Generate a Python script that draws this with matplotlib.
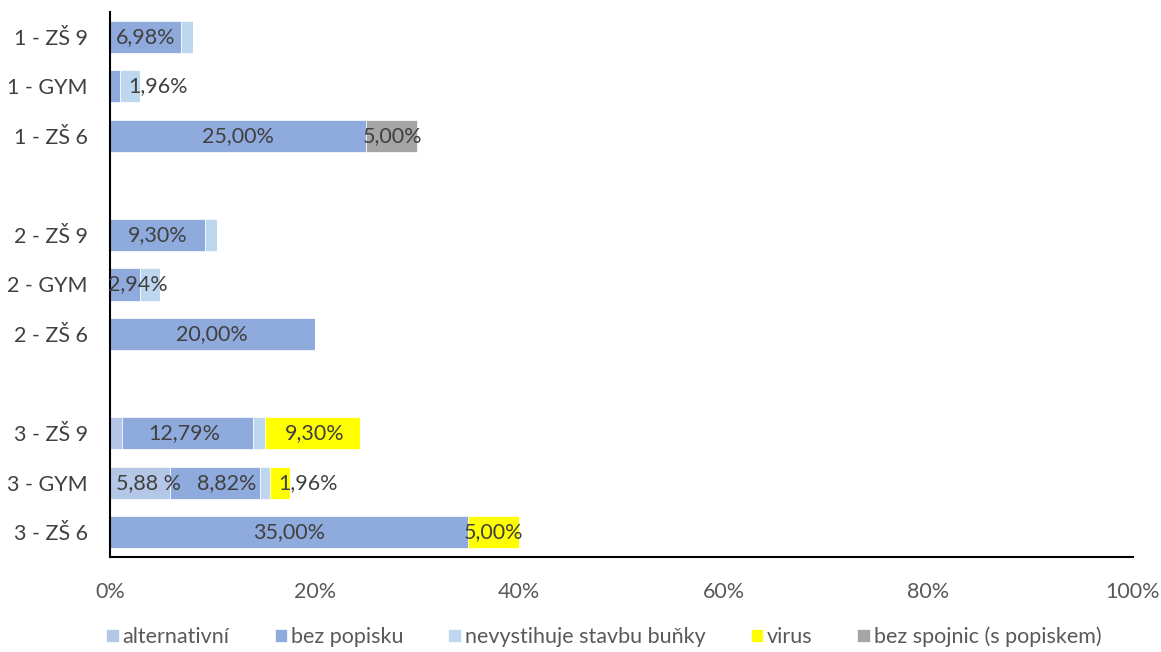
import matplotlib
matplotlib.use("Agg")
import matplotlib.pyplot as plt
import numpy as np

categories = ["1 - ZŠ 9", "1 - GYM", "1 - ZŠ 6", "",
              "2 - ZŠ 9", "2 - GYM", "2 - ZŠ 6", "",
              "3 - ZŠ 9", "3 - GYM", "3 - ZŠ 6"]
series = ["alternativní", "bez popisku", "nevystihuje stavbu buňky", "virus", "bez spojnic (s popiskem)"]
alternativni = [0, 0, 0, 0, 0, 0, 0, 0, 1.16, 5.88, 0]
bez_popisku = [6.98, 0.98, 25.00, 0, 9.30, 2.94, 20.00, 0, 12.79, 8.82, 35.00]
nevystihuje = [1.16, 1.96, 0, 0, 1.16, 1.96, 0, 0, 1.16, 0.98, 0]
virus = [0, 0, 0, 0, 0, 0, 0, 0, 9.30, 1.96, 5.00]
bez_spojnic = [0, 0, 5.00, 0, 0, 0, 0, 0, 0, 0, 0]
colors = ["#B4C7E7", "#8FAADC", "#BDD7EE", "#FFFF00", "#A5A5A5"]

# labels: (row, series index, text, x offset in points)
labels = [(0, 1, "6,98%", 0), (1, 2, "1,96%", 20), (2, 1, "25,00%", 0), (2, 4, "5,00%", 1),
          (4, 1, "9,30%", 0), (5, 1, "2,94%", 9), (6, 1, "20,00%", 0),
          (8, 1, "12,79%", -2), (8, 3, "9,30%", 2),
          (9, 0, "5,88 %", 6), (9, 1, "8,82%", 8), (9, 3, "1,96%", 20),
          (10, 1, "35,00%", 0), (10, 3, "5,00%", 0)]

data = np.array([alternativni, bez_popisku, nevystihuje, virus, bez_spojnic]) / 100.0
FAM = ['Lato', 'DejaVu Sans']
FS = 15.5

fig = plt.figure(figsize=(11.61, 6.52), dpi=100)
ax = fig.add_axes([110 / 1161, 1 - 557 / 652, (1133 - 110) / 1161, (557 - 12) / 652])
plt.rcParams['font.family'] = FAM

y = np.arange(len(categories))
left = np.zeros(len(categories))
lefts = []
for i, name in enumerate(series):
    ax.barh(y, data[i], left=left, height=0.65, color=colors[i], label=name,
            edgecolor="white", linewidth=0.5)
    lefts.append(left.copy())
    left = left + data[i]

for row, si, txt, dx in labels:
    xc = lefts[si][row] + data[si][row] / 2
    ax.annotate(txt, (xc, row), xytext=(dx, 0), textcoords="offset points",
                ha="center", va="center", fontsize=FS, color="#404040", family=FAM)

ax.set_xlim(0, 1)
ax.set_ylim(len(categories) - 0.5, -0.5)
ax.set_yticks(y)
ax.set_yticklabels(categories, fontsize=FS, color="#404040", family=FAM)
ax.set_xticks(np.linspace(0, 1, 6))
ax.set_xticklabels([f"{int(v)}%" for v in np.linspace(0, 100, 6)], fontsize=FS, color="#595959",
                   family=FAM)
ax.tick_params(axis="y", length=0, pad=16)
ax.tick_params(axis="x", length=0, pad=18)
for s in ["top", "right"]:
    ax.spines[s].set_visible(False)
ax.spines["left"].set_color("black")
ax.spines["left"].set_linewidth(1.5)
ax.spines["bottom"].set_color("black")
ax.spines["bottom"].set_linewidth(1.5)

leg = fig.legend(loc="lower center", bbox_to_anchor=(0.52, -0.022), ncol=5, frameon=False,
                 handlelength=0.6, handleheight=0.6, handletextpad=0.15, columnspacing=2.1,
                 prop={'family': FAM, 'size': FS})
for t in leg.get_texts():
    t.set_color("#595959")

fig.savefig("out.png", dpi=100)
